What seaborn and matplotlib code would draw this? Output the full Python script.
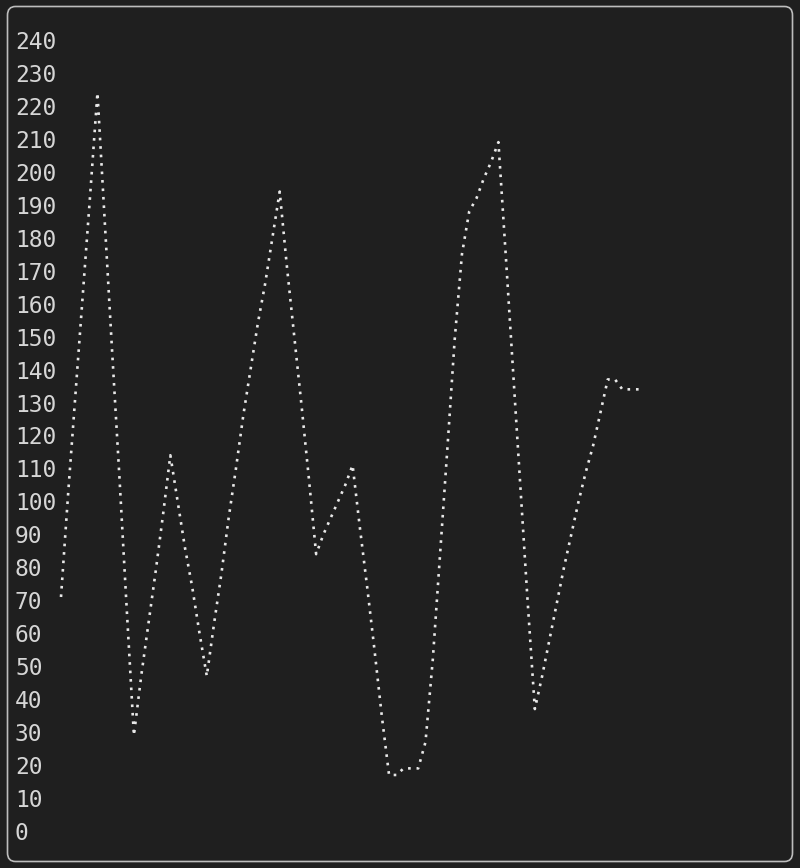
import matplotlib
matplotlib.use("Agg")
import matplotlib.pyplot as plt
from matplotlib.patches import FancyBboxPatch
import seaborn as sns
import pandas as pd

# valori letti per colonna (una colonna di punti braille = un passo)
step = list(range(81))
value = [71, 103, 133, 163, 193, 224, 185, 146, 108, 68,
         29, 47, 63, 79, 96, 114, 100, 86, 74, 60,
         47, 63, 78, 95, 110, 126, 140, 154, 166, 180,
         194, 171, 150, 129, 107, 84, 90, 95, 100, 105,
         111, 92, 74, 55, 35, 17, 17, 19, 19, 19,
         27, 52, 84, 116, 149, 175, 188, 192, 198, 203,
         209, 175, 140, 105, 70, 37, 47, 58, 69, 80,
         90, 100, 109, 117, 127, 137, 137, 134, 134, 134, 134]
yticks = list(range(0, 250, 10))

bg = "#1f1f1f"
fg = "#d6d6d6"

sns.set_theme(style="dark")
plt.rcParams["font.family"] = ["DejaVu Sans Mono", "DejaVu Sans"]
plt.rcParams["lines.scale_dashes"] = False

W, H = 800, 868
fig = plt.figure(figsize=(W / 100, H / 100), dpi=100, facecolor=bg)

# bordo arrotondato del riquadro
fig.patches.append(FancyBboxPatch((7.5 / W, 6.5 / H), 785 / W, 855 / H,
                                  boxstyle="round,pad=0,rounding_size=0.01",
                                  transform=fig.transFigure, fill=False,
                                  edgecolor="#bdbdbd", linewidth=1.2))

# assi: colonna 0 a x=61px, 7.29px per passo; valore 0 a y=831px, 3.296px per unita'
ax_l, ax_r, ax_t, ax_b = 15, 785, 20, 850
ax = fig.add_axes([ax_l / W, 1 - ax_b / H, (ax_r - ax_l) / W, (ax_b - ax_t) / H])
ax.set_facecolor(bg)

df = pd.DataFrame({"step": step, "value": value})
sns.lineplot(data=df, x="step", y="value", ax=ax, color="#e8e8e8", linewidth=1.9)
line = ax.lines[0]
line.set_dashes([1.9, 4.2])
line.set_dash_capstyle("butt")

ax.set_xlim((ax_l - 61) / 7.29, (ax_r - 61) / 7.29)
ax.set_ylim((831 - ax_b) / 3.296, (831 - ax_t) / 3.296)

ax.set_yticks(yticks)
ax.set_yticklabels([str(t) for t in yticks])
ax.set_xticks([])
ax.tick_params(axis="y", length=0, pad=0, labelsize=16.5, labelcolor=fg)
for lab in ax.get_yticklabels():
    lab.set_horizontalalignment("left")
ax.set_xlabel("")
ax.set_ylabel("")
ax.grid(False)
for s in ax.spines.values():
    s.set_visible(False)

fig.savefig("out.png", dpi=100, facecolor=bg)
